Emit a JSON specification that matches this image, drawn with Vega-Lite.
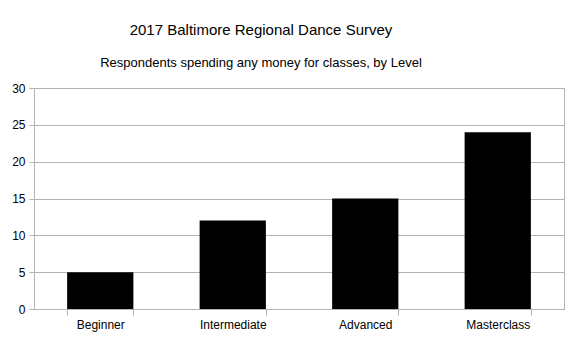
{
  "$schema": "https://vega.github.io/schema/vega-lite/v6.json",
  "width": 530,
  "height": 221,
  "autosize": {"type": "none"},
  "padding": {"left": 34, "top": 88, "right": 11, "bottom": 31},
  "background": "white",
  "title": {
    "text": "2017 Baltimore Regional Dance Survey",
    "subtitle": "Respondents spending any money for classes, by Level",
    "anchor": "middle",
    "dx": -38,
    "font": "Liberation Sans",
    "fontSize": 15,
    "fontWeight": "normal",
    "color": "#000000",
    "subtitleFont": "Liberation Sans",
    "subtitleFontSize": 13,
    "subtitleColor": "#000000",
    "subtitlePadding": 19,
    "offset": 12
  },
  "data": {
    "values": [
      {"level": "Beginner", "count": 5},
      {"level": "Intermediate", "count": 12},
      {"level": "Advanced", "count": 15},
      {"level": "Masterclass", "count": 24}
    ]
  },
  "mark": {"type": "bar", "color": "#000000"},
  "encoding": {
    "x": {
      "field": "level",
      "type": "nominal",
      "sort": null,
      "scale": {"paddingInner": 0.5, "paddingOuter": 0.25},
      "axis": {
        "title": null,
        "labelAngle": 0,
        "tickBand": "extent",
        "tickSize": 6,
        "labelPadding": 4,
        "labelFont": "Liberation Sans",
        "labelFontSize": 12,
        "labelColor": "#000000",
        "domainColor": "#b3b3b3",
        "tickColor": "#b3b3b3",
        "grid": false
      }
    },
    "y": {
      "field": "count",
      "type": "quantitative",
      "scale": {"domain": [0, 30]},
      "axis": {
        "title": null,
        "values": [0, 5, 10, 15, 20, 25, 30],
        "tickSize": 5,
        "labelPadding": 4,
        "labelFont": "Liberation Sans",
        "labelFontSize": 12,
        "labelColor": "#000000",
        "domainColor": "#b3b3b3",
        "tickColor": "#b3b3b3",
        "gridColor": "#b3b3b3",
        "grid": true
      }
    }
  },
  "config": {
    "view": {"stroke": "#b3b3b3"},
    "axis": {"domainWidth": 1, "tickWidth": 1, "gridWidth": 1}
  }
}
